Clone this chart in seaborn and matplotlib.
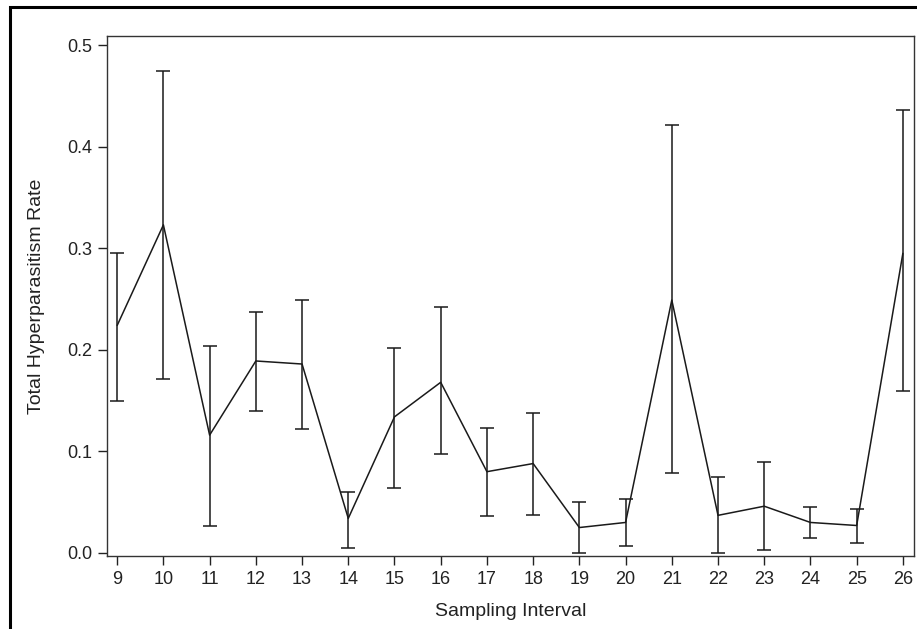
import numpy as np
import pandas as pd
import seaborn as sns
import matplotlib.pyplot as plt
from matplotlib.patches import Rectangle

# values
intervals = [9, 10, 11, 12, 13, 14, 15, 16, 17, 18, 19, 20, 21, 22, 23, 24, 25, 26]
rate = [0.224, 0.323, 0.116, 0.189, 0.186, 0.034, 0.134, 0.168, 0.080, 0.088,
        0.025, 0.030, 0.249, 0.037, 0.046, 0.030, 0.027, 0.295]
upper = [0.295, 0.475, 0.204, 0.237, 0.249, 0.060, 0.202, 0.242, 0.123, 0.138,
         0.050, 0.053, 0.421, 0.075, 0.090, 0.045, 0.043, 0.436]
lower = [0.150, 0.171, 0.027, 0.140, 0.122, 0.005, 0.064, 0.097, 0.036, 0.037,
         0.000, 0.007, 0.079, 0.000, 0.003, 0.015, 0.010, 0.159]

df = pd.DataFrame({"interval": intervals, "rate": rate, "upper": upper, "lower": lower})

sns.set_style("ticks")
plt.rcParams["font.family"] = ["Liberation Sans", "DejaVu Sans"]

fig = plt.figure(figsize=(9.17, 6.29), dpi=100)
ax = fig.add_axes([0.1167, 0.1161, 0.88, 0.8267])

col = "#1a1a1a"
sns.lineplot(data=df, x="interval", y="rate", color=col, linewidth=1.1, ax=ax)
ax.errorbar(df["interval"], df["rate"],
            yerr=[df["rate"] - df["lower"], df["upper"] - df["rate"]],
            fmt="none", ecolor=col, elinewidth=1.1, capsize=5.2, capthick=1.1)

ax.set_xlim(8.78, 26.24)
ax.set_ylim(-0.003, 0.509)
ax.set_xticks(intervals)
ax.set_yticks([0.0, 0.1, 0.2, 0.3, 0.4, 0.5])
ax.set_yticklabels(["0.0", "0.1", "0.2", "0.3", "0.4", "0.5"])
ax.tick_params(labelsize=13, colors="#222222", length=6.5, width=1, pad=4)
ax.set_xlabel("Sampling Interval", fontsize=14, color="#222222", labelpad=11)
ax.set_ylabel("Total Hyperparasitism Rate", fontsize=14, color="#222222", labelpad=16)
for s in ax.spines.values():
    s.set_color("#333333")
    s.set_linewidth(1.0)

# outer frame around the graphic
fig.patches.append(Rectangle((10 / 917, -0.2), 1.2, 1.2 - 7 / 629,
                             transform=fig.transFigure, fill=False,
                             edgecolor="black", linewidth=2.2))

fig.savefig("out.png", dpi=100)
